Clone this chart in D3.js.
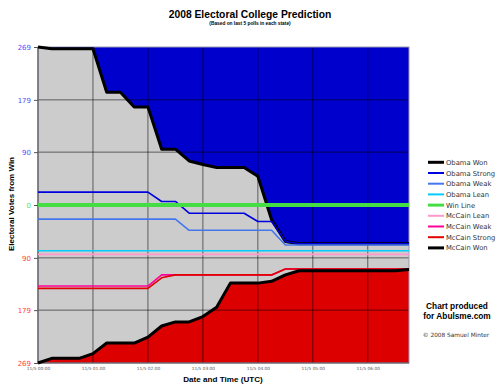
<!DOCTYPE html>
<html>
<head>
<meta charset="utf-8">
<script src="https://cdn.jsdelivr.net/npm/d3@7"></script>
<style>
  body { margin: 0; background: #fff; }
  svg { display: block; }
</style>
</head>
<body>
<div id="chart"></div>
<script>
// snapshot times (UTC, 15 minute steps)
var times = [
  "2008-11-05 00:00", "2008-11-05 00:15", "2008-11-05 00:30", "2008-11-05 00:45",
  "2008-11-05 01:00", "2008-11-05 01:15", "2008-11-05 01:30", "2008-11-05 01:45",
  "2008-11-05 02:00", "2008-11-05 02:15", "2008-11-05 02:30", "2008-11-05 02:45",
  "2008-11-05 03:00", "2008-11-05 03:15", "2008-11-05 03:30", "2008-11-05 03:45",
  "2008-11-05 04:00", "2008-11-05 04:15", "2008-11-05 04:30", "2008-11-05 04:45",
  "2008-11-05 05:00", "2008-11-05 05:15", "2008-11-05 05:30", "2008-11-05 05:45",
  "2008-11-05 06:00", "2008-11-05 06:15", "2008-11-05 06:30", "2008-11-05 06:45"
];

// electoral votes from win (positive = Obama still needs, negative = past the line toward McCain)
var obamaWon    = [269, 266, 266, 266, 266, 192, 192, 167, 167, 95, 95, 75, 69, 64, 64, 64, 49, -25, -62, -66, -66, -66, -66, -66, -66, -66, -66, -66];
var obamaStrong = [22, 22, 22, 22, 22, 22, 22, 22, 22, 6, 6, -14, -14, -14, -14, -14, -28, -28, -62, -66, -66, -66, -66, -66, -66, -66, -66, -66];
var obamaWeak   = [-24, -24, -24, -24, -24, -24, -24, -24, -24, -24, -24, -43, -43, -43, -43, -43, -43, -43, -68, -68, -68, -68, -68, -68, -68, -68, -68, -68];
var obamaLean   = [-78, -78, -78, -78, -78, -78, -78, -78, -78, -78, -78, -78, -78, -78, -78, -78, -78, -78, -78, -78, -78, -78, -78, -78, -78, -78, -78, -78];
var winLine     = [0, 0, 0, 0, 0, 0, 0, 0, 0, 0, 0, 0, 0, 0, 0, 0, 0, 0, 0, 0, 0, 0, 0, 0, 0, 0, 0, 0];
var mccainLean  = [-84, -84, -84, -84, -84, -84, -84, -84, -84, -84, -84, -84, -84, -84, -84, -84, -84, -84, -84, -84, -84, -84, -84, -84, -84, -84, -84, -84];
var mccainWeak  = [-138, -138, -138, -138, -138, -138, -138, -138, -138, -119, -119, -119, -119, -119, -119, -119, -119, -119, -109, -109, -109, -109, -109, -109, -109, -109, -109, -109];
var mccainStrong = [-142, -142, -142, -142, -142, -142, -142, -142, -142, -124, -119, -119, -119, -119, -119, -119, -119, -119, -109, -109, -109, -109, -109, -109, -109, -109, -109, -109];
var mccainWon   = [-269, -261, -261, -261, -253, -235, -235, -235, -225, -206, -199, -199, -190, -174, -133, -133, -133, -130, -119, -112, -112, -112, -112, -112, -112, -112, -112, -110];

var seriesNames = ["Obama Won", "Obama Strong", "Obama Weak", "Obama Lean", "Win Line",
                   "McCain Lean", "McCain Weak", "McCain Strong", "McCain Won"];
var seriesValues = [obamaWon, obamaStrong, obamaWeak, obamaLean, winLine,
                    mccainLean, mccainWeak, mccainStrong, mccainWon];
var yTicks = [269, 179, 90, 0, -90, -179, -269];

// look of each line
var styles = {
  "Obama Won":     { color: "#000000", width: 3 },
  "Obama Strong":  { color: "#0000dd", width: 1.6 },
  "Obama Weak":    { color: "#4477ee", width: 1.6 },
  "Obama Lean":    { color: "#00ccff", width: 1.6 },
  "Win Line":      { color: "#44dd44", width: 4 },
  "McCain Lean":   { color: "#ff99cc", width: 1.6 },
  "McCain Weak":   { color: "#ff0099", width: 1.6 },
  "McCain Strong": { color: "#e00000", width: 1.6 },
  "McCain Won":    { color: "#000000", width: 3 }
};

var width = 500, height = 391;
var plot = { left: 38, right: 409, top: 47, bottom: 363 };

var parseTime = d3.utcParse("%Y-%m-%d %H:%M");
var dates = times.map(parseTime);

var svg = d3.select("#chart").append("svg")
  .attr("width", width)
  .attr("height", height);

var x = d3.scaleUtc()
  .domain([dates[0], dates[dates.length - 1]])
  .range([plot.left, plot.right]);

var y = d3.scaleLinear()
  .domain([-269, 269])
  .range([plot.bottom, plot.top]);

function points(values) {
  return values.map(function(v, i) { return { t: dates[i], v: v }; });
}

// background
svg.append("rect")
  .attr("x", plot.left).attr("y", plot.top)
  .attr("width", plot.right - plot.left)
  .attr("height", plot.bottom - plot.top)
  .attr("fill", "#cccccc");

// filled areas for won states
var obamaArea = d3.area()
  .x(function(d) { return x(d.t); })
  .y0(y(269))
  .y1(function(d) { return y(d.v); });

var mccainArea = d3.area()
  .x(function(d) { return x(d.t); })
  .y0(y(-269))
  .y1(function(d) { return y(d.v); });

svg.append("path")
  .attr("d", obamaArea(points(obamaWon)))
  .attr("fill", "#0000cc");

svg.append("path")
  .attr("d", mccainArea(points(mccainWon)))
  .attr("fill", "#dd0000");

// grid
var hourTicks = x.ticks(d3.utcHour.every(1));
svg.append("g")
  .selectAll("line")
  .data(hourTicks.slice(1))
  .enter().append("line")
  .attr("x1", function(d) { return x(d); })
  .attr("x2", function(d) { return x(d); })
  .attr("y1", plot.top)
  .attr("y2", plot.bottom)
  .attr("stroke", "#000")
  .attr("stroke-opacity", 0.55)
  .attr("stroke-width", 1);

svg.append("g")
  .selectAll("line")
  .data(yTicks.filter(function(d) { return Math.abs(d) !== 269; }))
  .enter().append("line")
  .attr("x1", plot.left)
  .attr("x2", plot.right)
  .attr("y1", function(d) { return y(d); })
  .attr("y2", function(d) { return y(d); })
  .attr("stroke", "#000")
  .attr("stroke-opacity", 0.55)
  .attr("stroke-width", 1);

// frame
svg.append("rect")
  .attr("x", plot.left).attr("y", plot.top)
  .attr("width", plot.right - plot.left)
  .attr("height", plot.bottom - plot.top)
  .attr("fill", "none")
  .attr("stroke", "#9a9ab4")
  .attr("stroke-width", 1);

svg.append("line")
  .attr("x1", plot.left).attr("x2", plot.left)
  .attr("y1", plot.top).attr("y2", plot.bottom)
  .attr("stroke", "#555").attr("stroke-width", 1.2);

svg.append("line")
  .attr("x1", plot.left).attr("x2", plot.right)
  .attr("y1", plot.bottom).attr("y2", plot.bottom)
  .attr("stroke", "#555").attr("stroke-width", 1.2);

// series lines
var line = d3.line()
  .x(function(d) { return x(d.t); })
  .y(function(d) { return y(d.v); });

seriesNames.forEach(function(name, i) {
  svg.append("path")
    .attr("d", line(points(seriesValues[i])))
    .attr("fill", "none")
    .attr("stroke", styles[name].color)
    .attr("stroke-width", styles[name].width)
    .attr("stroke-linejoin", "round");
});

// y axis
function tickColor(d) {
  if (d > 0) return "#5050ff";
  if (d < 0) return "#ff4040";
  return "#55dd55";
}

var yAxis = svg.append("g")
  .attr("transform", "translate(" + plot.left + ",0)")
  .call(d3.axisLeft(y).tickValues(yTicks).tickSize(4).tickPadding(3)
    .tickFormat(function(d) { return Math.abs(d); }));
yAxis.select(".domain").remove();
yAxis.selectAll(".tick line").attr("stroke", "#555");
yAxis.selectAll(".tick text")
  .style("font-family", "'DejaVu Sans', Verdana, sans-serif")
  .style("font-size", "7px")
  .attr("fill", tickColor);

// x axis
var xAxis = svg.append("g")
  .attr("transform", "translate(0," + plot.bottom + ")")
  .call(d3.axisBottom(x).ticks(d3.utcHour.every(1)).tickSize(0).tickPadding(4)
    .tickFormat(d3.utcFormat("%-m/%-d %H:%M")));
xAxis.select(".domain").remove();
xAxis.selectAll(".tick text")
  .style("font-family", "'DejaVu Sans', Verdana, sans-serif")
  .style("font-size", "4.3px")
  .attr("fill", "#555");

// titles
svg.append("text")
  .attr("x", 250).attr("y", 18)
  .attr("text-anchor", "middle")
  .style("font-family", "'Liberation Sans', Arial, sans-serif")
  .style("font-weight", "bold")
  .style("font-size", "10.3px")
  .text("2008 Electoral College Prediction");

svg.append("text")
  .attr("x", 250).attr("y", 25)
  .attr("text-anchor", "middle")
  .style("font-family", "'Liberation Sans', Arial, sans-serif")
  .style("font-weight", "bold")
  .style("font-size", "4.8px")
  .text("(Based on last 5 polls in each state)");

svg.append("text")
  .attr("transform", "translate(14,204) rotate(-90)")
  .attr("text-anchor", "middle")
  .style("font-family", "'Liberation Sans', Arial, sans-serif")
  .style("font-weight", "bold")
  .style("font-size", "8px")
  .text("Electoral Votes from Win");

svg.append("text")
  .attr("x", 223).attr("y", 382)
  .attr("text-anchor", "middle")
  .style("font-family", "'Liberation Sans', Arial, sans-serif")
  .style("font-weight", "bold")
  .style("font-size", "8.1px")
  .text("Date and Time (UTC)");

// legend
var legend = svg.append("g").attr("transform", "translate(428,162.3)");
var items = legend.selectAll("g")
  .data(seriesNames)
  .enter().append("g")
  .attr("transform", function(d, i) { return "translate(0," + (i * 10.7) + ")"; });

items.append("line")
  .attr("x1", 0).attr("x2", 16)
  .attr("stroke", function(d) { return styles[d].color; })
  .attr("stroke-width", function(d) { return d === "Obama Won" || d === "McCain Won" || d === "Win Line" ? 3 : 2; });

items.append("text")
  .attr("x", 18).attr("y", 2.5)
  .style("font-family", "'DejaVu Sans', Verdana, sans-serif")
  .style("font-size", "6.8px")
  .attr("fill", "#333")
  .text(function(d) { return d; });

// credits
svg.append("text")
  .attr("x", 457).attr("y", 309)
  .attr("text-anchor", "middle")
  .style("font-family", "'Liberation Sans', Arial, sans-serif")
  .style("font-weight", "bold")
  .style("font-size", "8.3px")
  .text("Chart produced");

svg.append("text")
  .attr("x", 457).attr("y", 318.7)
  .attr("text-anchor", "middle")
  .style("font-family", "'Liberation Sans', Arial, sans-serif")
  .style("font-weight", "bold")
  .style("font-size", "8.3px")
  .text("for Abulsme.com");

svg.append("text")
  .attr("x", 456).attr("y", 336.5)
  .attr("text-anchor", "middle")
  .style("font-family", "'DejaVu Sans', Verdana, sans-serif")
  .style("font-size", "5.8px")
  .attr("fill", "#333")
  .text("\u00a9 2008 Samuel Minter");
</script>
</body>
</html>
